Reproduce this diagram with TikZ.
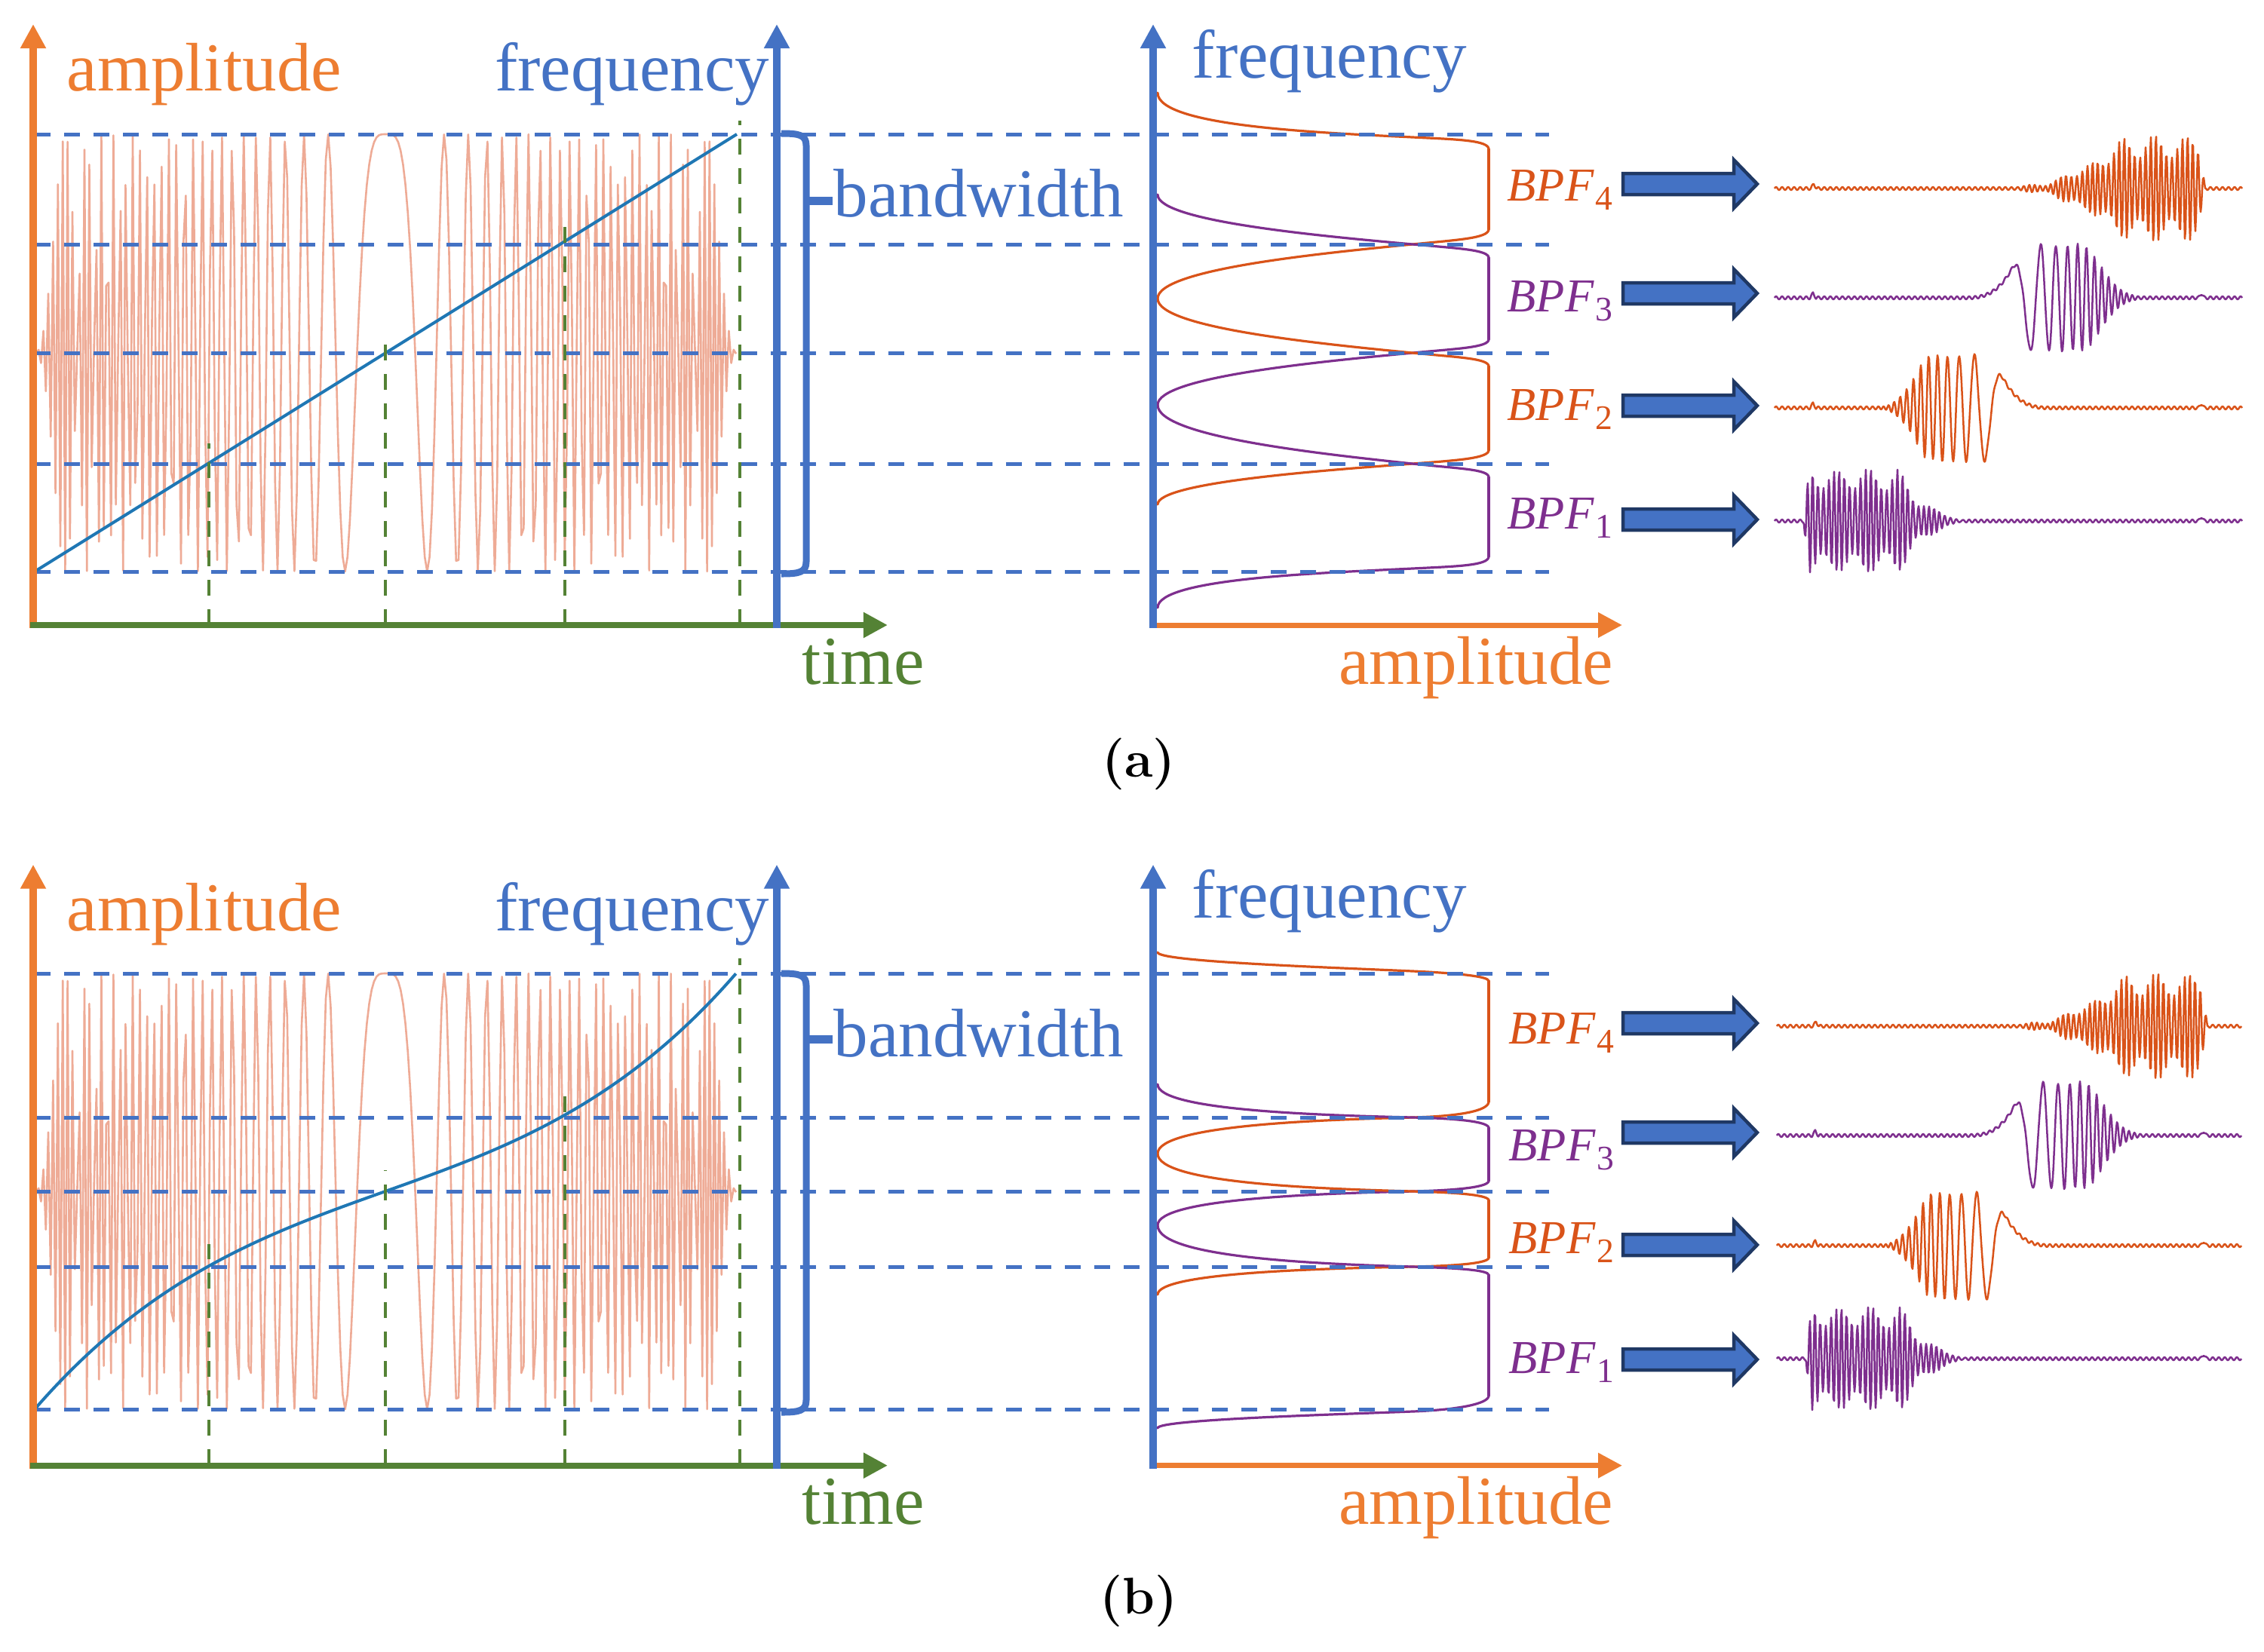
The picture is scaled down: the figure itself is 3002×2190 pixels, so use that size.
\documentclass[tikz,border=0pt]{standalone}
\usepackage{fontspec}
\newfontfamily\tnr{Liberation Serif}
\usetikzlibrary{arrows.meta}
\definecolor{axorange}{HTML}{ED7D31}
\definecolor{axblue}{HTML}{4472C4}
\definecolor{axgreen}{HTML}{548235}
\definecolor{mlorange}{HTML}{D95319}
\definecolor{mlpurple}{HTML}{7E2F8E}
\definecolor{tabblue}{RGB}{31,119,180}
\definecolor{chirpc}{RGB}{228,120,85}
\definecolor{navy}{HTML}{1F3864}
\tikzset{
  declare function={
    sq(\x)=(\x)*(\x);
    rip(\x)=2*sin(45*mod(\x,8));
    blip(\x,\y)=6*max(0,1-abs(\x-\y)/4);
    enva(\x)=sq(max(0,min(1,(\x-305)/160)))*(1-max(0,min(1,(\x-562)/10)));
    envd(\x)=max(0,min(1,(\x-38)/8))*sq(max(0,min(1,(258-\x)/95)));
    cara(\x)=0.8*sin(51.43*mod(\x,7))+0.2*sin(60*mod(\x,6));
    tcl(\x)=max(0,min(200,\x));
    psib(\x)=4.4*tcl(\x)+14.4*sq(tcl(\x)/10);
    ampb(\x)=(41+29*min(1,max(0,\x)/23))*sq(max(0,1-max(0,\x-100)/70));
    preb(\x)=41*sq(max(0,min(1,(\x+66)/66)))*max(0,min(1,(\x+66)/66));
    bfun(\x)=ifthenelse(\x<0,preb(\x),ampb(\x)*cos(psib(\x)));
    wa(\x)=rip(\x)+blip(\x,52)+70*enva(\x)*cara(\x);
    wb(\x)=rip(\x)+blip(\x,51)+blip(\x,566)+bfun(\x-316);
    wc(\x)=rip(\x)+blip(\x,51)+blip(\x,566)+bfun(302-\x);
    wd(\x)=rip(\x)+blip(\x,566)+70*envd(\x)*cara(\x);
  },
  axline/.style={line width=0.09cm,-{Triangle[length=0.32cm,width=0.32cm]}},
  hdash/.style={axblue,line width=0.05cm,dash pattern=on 0.21cm off 0.18cm},
  vdash/.style={axgreen,line width=0.045cm,dash pattern=on 0.21cm off 0.18cm},
  lbl/.style={font=\tnr\fontsize{25.9}{31}\selectfont,inner sep=0pt},
  bpf/.style={font=\tnr\fontsize{17.8}{21}\selectfont,inner sep=0pt,anchor=base west},
  subcap/.style={font=\bfseries\fontsize{19.5}{22}\selectfont,inner sep=0pt,anchor=base},
  filt/.style={line width=0.032cm,line cap=round},
  wave/.style={line width=0.025cm,line join=round},
  chirp/.style={chirpc,opacity=0.62,line width=0.026cm,line join=round},
  barrow/.style={fill=axblue,draw=navy,line width=0.045cm,line join=miter},
  fline/.style={tabblue,line width=0.04cm},
  bracestyle/.style={axblue,line width=0.09cm,line join=round},
}
\newcommand\bpflab[1]{{\itshape BPF}\kern0.03em\raisebox{-0.2em}{\fontsize{13}{14}\selectfont #1}}
% skirt: color, edge, dir, c0, c1, c2, D, k
\newcommand\skirt[8]{%
  \draw[filt,#1] (1974,{#2-(#3)*(#8)}) .. controls (1974,{#2-(#3)*(#8)*0.4}) and (1933,{#2+(#3)*((#4)-((#5)-(#4))*0.488)}) .. (1873,{#2+(#3)*(#4)}) .. controls (1750,{#2+(#3)*(#5)}) and (1535,{#2+(#3)*(#6)}) .. (1535,{#2+(#3)*(#7)});}
\newcommand\blockarrow[1]{%
  \draw[barrow] (2152,{#1-14}) -- (2299,{#1-14}) -- (2299,{#1-32}) -- (2330,{#1}) -- (2299,{#1+32}) -- (2299,{#1+14}) -- (2152,{#1+14}) -- cycle;}
\newcommand\bwbrace[3]{%
  \draw[bracestyle] (1036,#1) .. controls (1060,#1) and (1069,{#1+2}) .. (1069,{#1+16}) -- (1069,{#3-16}) .. controls (1069,{#3-2}) and (1060,#3) .. (1036,#3);
  \draw[axblue,line width=0.11cm] (1066,#2) -- (1104,#2);}
\newcommand\axesandtext[1]{%
  \coordinate (ao#1) at (44,833);
  \coordinate (at#1) at (44,32);
  \coordinate (to#1) at (40,829);
  \coordinate (tt#1) at (1177,829);
  \coordinate (fo#1) at (1030,833);
  \coordinate (ft#1) at (1030,32);
  \coordinate (ro#1) at (1524,829);
  \coordinate (rt#1) at (2151,829);
  \coordinate (rfo#1) at (1529,833);
  \coordinate (rft#1) at (1529,32);
  \draw[axline,axorange,line width=0.1cm] (ao#1) -- (at#1);
  \draw[axline,axgreen,line width=0.08cm] (to#1) -- (tt#1);
  \draw[axline,axblue,line width=0.1cm] (fo#1) -- (ft#1);
  \draw[axline,axorange,line width=0.07cm] (ro#1) -- (rt#1);
  \draw[axline,axblue,line width=0.1cm] (rfo#1) -- (rft#1);
  \node[lbl,text=axorange,anchor=base west] (ampl#1) at (88,120) {amplitude};
  \node[lbl,text=axblue,anchor=base east] (freql#1) at (1021,120) {frequency};
  \node[lbl,text=axblue,anchor=base west] (freqr#1) at (1580,103) {frequency};
  \node[lbl,text=axgreen,anchor=base west] (time#1) at (1063,907) {time};
  \node[lbl,text=axorange,anchor=base east] (ampr#1) at (2140,907) {amplitude};
  \node[lbl,text=axblue,anchor=base west] (bw#1) at (1105,287) {bandwidth};}
\begin{document}
\begin{tikzpicture}[x=0.01cm,y=-0.01cm]
\useasboundingbox (0,0) rectangle (3002,2190);
% ---------------- panel (a) ----------------
\draw[chirp] plot[domain=-145:145,samples=291] ({512+3.2*\x},{468-290*cos(62.07*(\x/10)*(\x/10))});
\skirt{mlorange}{178}{-1}{-4}{2}{10.3}{55}{20}
\draw[filt,mlorange] (1974,198) -- (1974,304);
\skirt{mlorange}{324}{1}{0}{12.2}{33}{72}{20}
\skirt{mlpurple}{324}{-1}{0}{11.2}{30.4}{66}{18}
\draw[filt,mlpurple] (1974,342) -- (1974,450);
\skirt{mlpurple}{468}{1}{0}{11.7}{31.7}{69}{18}
\skirt{mlorange}{468}{-1}{0}{12.2}{33}{72}{18}
\draw[filt,mlorange] (1974,486) -- (1974,597);
\skirt{mlorange}{615}{1}{0}{9.2}{24.8}{54}{18}
\skirt{mlpurple}{615}{-1}{0}{13.3}{35.9}{78}{18}
\draw[filt,mlpurple] (1974,633) -- (1974,738);
\skirt{mlpurple}{758}{1}{-4}{2}{9}{48}{20}
\foreach \yy in {178,324,468,615,758} {\draw[hdash] (46,\yy) -- (2054,\yy);}
\draw[fline] (46,758) -- (977,178);
\draw[vdash] (277,829) -- (277,588);
\draw[vdash] (511,829) -- (511,441);
\draw[vdash] (749,829) -- (749,296);
\draw[vdash] (981,829) -- (981,160);
\axesandtext{a}
\bwbrace{177}{266}{761}
\node[bpf,text=mlorange] (bpf4a) at (1998,266) {\bpflab{4}};
\node[bpf,text=mlpurple] (bpf3a) at (1998,413) {\bpflab{3}};
\node[bpf,text=mlorange] (bpf2a) at (1998,557) {\bpflab{2}};
\node[bpf,text=mlpurple] (bpf1a) at (1998,701) {\bpflab{1}};
\blockarrow{244}
\blockarrow{389}
\blockarrow{538}
\blockarrow{689}
\draw[wave,mlorange] plot[domain=0:620,samples=621] ({2353+\x},{250-wa(\x)});
\draw[wave,mlpurple] plot[domain=0:620,samples=621] ({2353+\x},{395-wb(\x)});
\draw[wave,mlorange] plot[domain=0:620,samples=621] ({2353+\x},{541-wc(\x)});
\draw[wave,mlpurple] plot[domain=0:620,samples=621] ({2353+\x},{691-wd(\x)});
\node[subcap] (capa) at (1510,1030) {(a)};
% ---------------- panel (b) ----------------
\draw[chirp] plot[domain=-145:145,samples=291] ({512+3.2*\x},{1580-289*cos(62.07*(\x/10)*(\x/10))});
\skirt{mlorange}{1291}{-1}{3}{8.5}{15.8}{28}{10}
\draw[filt,mlorange] (1974,1301) -- (1974,1461);
\skirt{mlorange}{1482}{1}{0}{3.1}{10.2}{48}{21}
\skirt{mlpurple}{1482}{-1}{0}{2.9}{9.2}{44}{14}
\draw[filt,mlpurple] (1974,1496) -- (1974,1566);
\skirt{mlpurple}{1580}{1}{0}{2.9}{9.5}{45}{14}
\skirt{mlorange}{1580}{-1}{0}{3.3}{10.5}{50}{12}
\draw[filt,mlorange] (1974,1592) -- (1974,1668);
\skirt{mlorange}{1680}{1}{0}{2.4}{7.8}{37}{12}
\skirt{mlpurple}{1680}{-1}{0}{3.6}{11.6}{55}{11}
\draw[filt,mlpurple] (1974,1691) -- (1974,1851);
\skirt{mlpurple}{1869}{1}{3}{7.6}{14.1}{25}{18}
\foreach \yy in {1291,1482,1580,1680,1869} {\draw[hdash] (46,\yy) -- (2054,\yy);}
\draw[fline] plot[domain=-1:1,samples=121] ({511+465*\x},{1580-289*(0.573*\x+0.427*\x*\x*\x)});
\draw[vdash] (277,1943) -- (277,1650);
\draw[vdash] (511,1943) -- (511,1552);
\draw[vdash] (749,1943) -- (749,1452);
\draw[vdash] (981,1943) -- (981,1271);
\begin{scope}[yshift=-11.14cm]
\axesandtext{b}
\end{scope}
\bwbrace{1291}{1378}{1873}
\node[bpf,text=mlorange] (bpf4b) at (2000,1384) {\bpflab{4}};
\node[bpf,text=mlpurple] (bpf3b) at (2000,1539) {\bpflab{3}};
\node[bpf,text=mlorange] (bpf2b) at (2000,1662) {\bpflab{2}};
\node[bpf,text=mlpurple] (bpf1b) at (2000,1821) {\bpflab{1}};
\blockarrow{1357}
\blockarrow{1502}
\blockarrow{1651}
\blockarrow{1803}
\draw[wave,mlorange] plot[domain=0:616,samples=617] ({2356+\x},{1361-wa(\x)});
\draw[wave,mlpurple] plot[domain=0:616,samples=617] ({2356+\x},{1506-wb(\x)});
\draw[wave,mlorange] plot[domain=0:616,samples=617] ({2356+\x},{1652-wc(\x)});
\draw[wave,mlpurple] plot[domain=0:616,samples=617] ({2356+\x},{1802-wd(\x)});
\node[subcap] (capb) at (1510,2140) {(b)};
\end{tikzpicture}
\end{document}
